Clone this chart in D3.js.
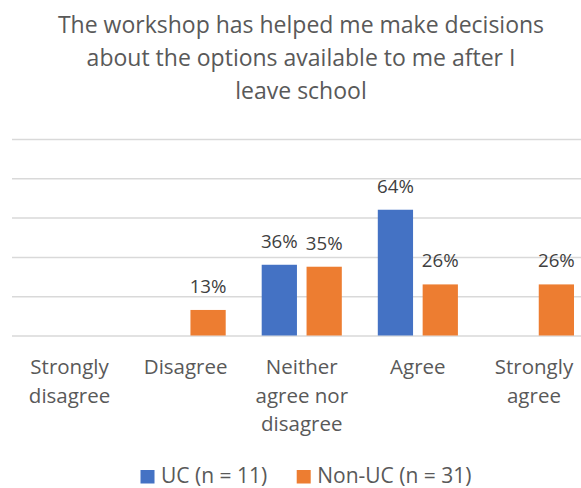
<!DOCTYPE html>
<html>
<head>
<meta charset="utf-8">
<script src="https://cdn.jsdelivr.net/npm/d3@7/dist/d3.min.js"></script>
<style>
  html, body { margin: 0; padding: 0; background: #fff; }
  svg text { font-family: "Open Sans", "Noto Sans", sans-serif; }
</style>
</head>
<body>
<svg id="chart" width="581" height="488"></svg>
<script>
// Survey responses by agreement level
const categories = [
  ["Strongly", "disagree"],
  ["Disagree"],
  ["Neither", "agree nor", "disagree"],
  ["Agree"],
  ["Strongly", "agree"]
];
const seriesNames = ["UC (n = 11)", "Non-UC (n = 31)"];
const ucValues = [0, 0, 0.36, 0.64, 0];
const nonUcValues = [0, 0.13, 0.35, 0.26, 0.26];
const gridTicks = [0, 0.2, 0.4, 0.6, 0.8, 1.0];
const titleLines = [
  "The workshop has helped me make decisions",
  "about the options available to me after I",
  "leave school"
];

const colors = ["#4472C4", "#ED7D31"];
const textColor = "#595959";
const series = [ucValues, nonUcValues];

const svg = d3.select("#chart");
const W = 581;

const catKeys = categories.map(c => c.join(" "));
const x0 = d3.scaleBand().domain(catKeys).range([11.5, 592])
  .paddingInner(0.31).paddingOuter(0.155);
const x1 = d3.scaleBand().domain(seriesNames).range([0, x0.bandwidth()])
  .paddingInner(0.214).paddingOuter(0);
const y = d3.scaleLinear().domain([0, 1]).range([335.5, 139]);

// Title
svg.append("g").selectAll("text").data(titleLines).join("text")
  .attr("x", 301).attr("y", (d, i) => 32.5 + i * 33)
  .attr("text-anchor", "middle")
  .attr("font-size", 23)
  .attr("fill", textColor)
  .text(d => d);

// Gridlines
const yAxis = d3.axisLeft(y).tickValues(gridTicks).tickSize(-(W - 12)).tickFormat("");
const gAxis = svg.append("g").attr("transform", "translate(12,0)").call(yAxis);
gAxis.select(".domain").remove();
gAxis.selectAll(".tick line").attr("stroke", "#d9d9d9").attr("stroke-width", 1.5);

// Bars
const rows = i => series.map((s, j) => ({ name: seriesNames[j], v: s[i], j })).filter(d => d.v > 0);
const groups = svg.append("g").selectAll("g").data(catKeys).join("g")
  .attr("transform", d => `translate(${x0(d)},0)`);

groups.selectAll("rect")
  .data((d, i) => rows(i))
  .join("rect")
  .attr("x", d => x1(d.name))
  .attr("width", x1.bandwidth())
  .attr("y", d => y(d.v))
  .attr("height", d => y(0) - y(d.v))
  .attr("fill", d => colors[d.j]);

// Value labels
groups.selectAll("text.val")
  .data((d, i) => rows(i))
  .join("text")
  .attr("class", "val")
  .attr("x", d => x1(d.name) + x1.bandwidth() / 2)
  .attr("y", d => y(d.v) - 17)
  .attr("text-anchor", "middle")
  .attr("font-size", 18.7)
  .attr("fill", "#404040")
  .text(d => d3.format(".0%")(d.v));

// Category labels
const xAxis = d3.axisBottom(x0).tickSize(0).tickFormat("");
const gx = svg.append("g").attr("transform", `translate(0,${y(0)})`).call(xAxis);
gx.select(".domain").remove();
gx.selectAll(".tick").each(function(d, i) {
  const t = d3.select(this).append("text")
    .attr("text-anchor", "middle")
    .attr("font-size", 20.5)
    .attr("fill", textColor);
  categories[i].forEach((line, k) => {
    t.append("tspan").attr("x", 0).attr("y", 38.5 + k * 28.5).text(line);
  });
});

// Legend, centred under the plot
const legend = svg.append("g");
const items = legend.selectAll("g").data(seriesNames).join("g");
items.append("rect").attr("y", 470).attr("width", 14).attr("height", 13.5)
  .attr("fill", (d, i) => colors[i]);
const labels = items.append("text").attr("x", 20.5).attr("y", 482.5)
  .attr("font-size", 21).attr("fill", textColor).text(d => d);
let cursor = 0;
const widths = [];
labels.each(function() { widths.push(this.getComputedTextLength()); });
items.attr("transform", (d, i) => {
  const tx = cursor;
  cursor += 20.5 + widths[i] + 29.5;
  return `translate(${tx},0)`;
});
const total = cursor - 29.5;
legend.attr("transform", `translate(${306 - total / 2},0)`);
</script>
</body>
</html>
